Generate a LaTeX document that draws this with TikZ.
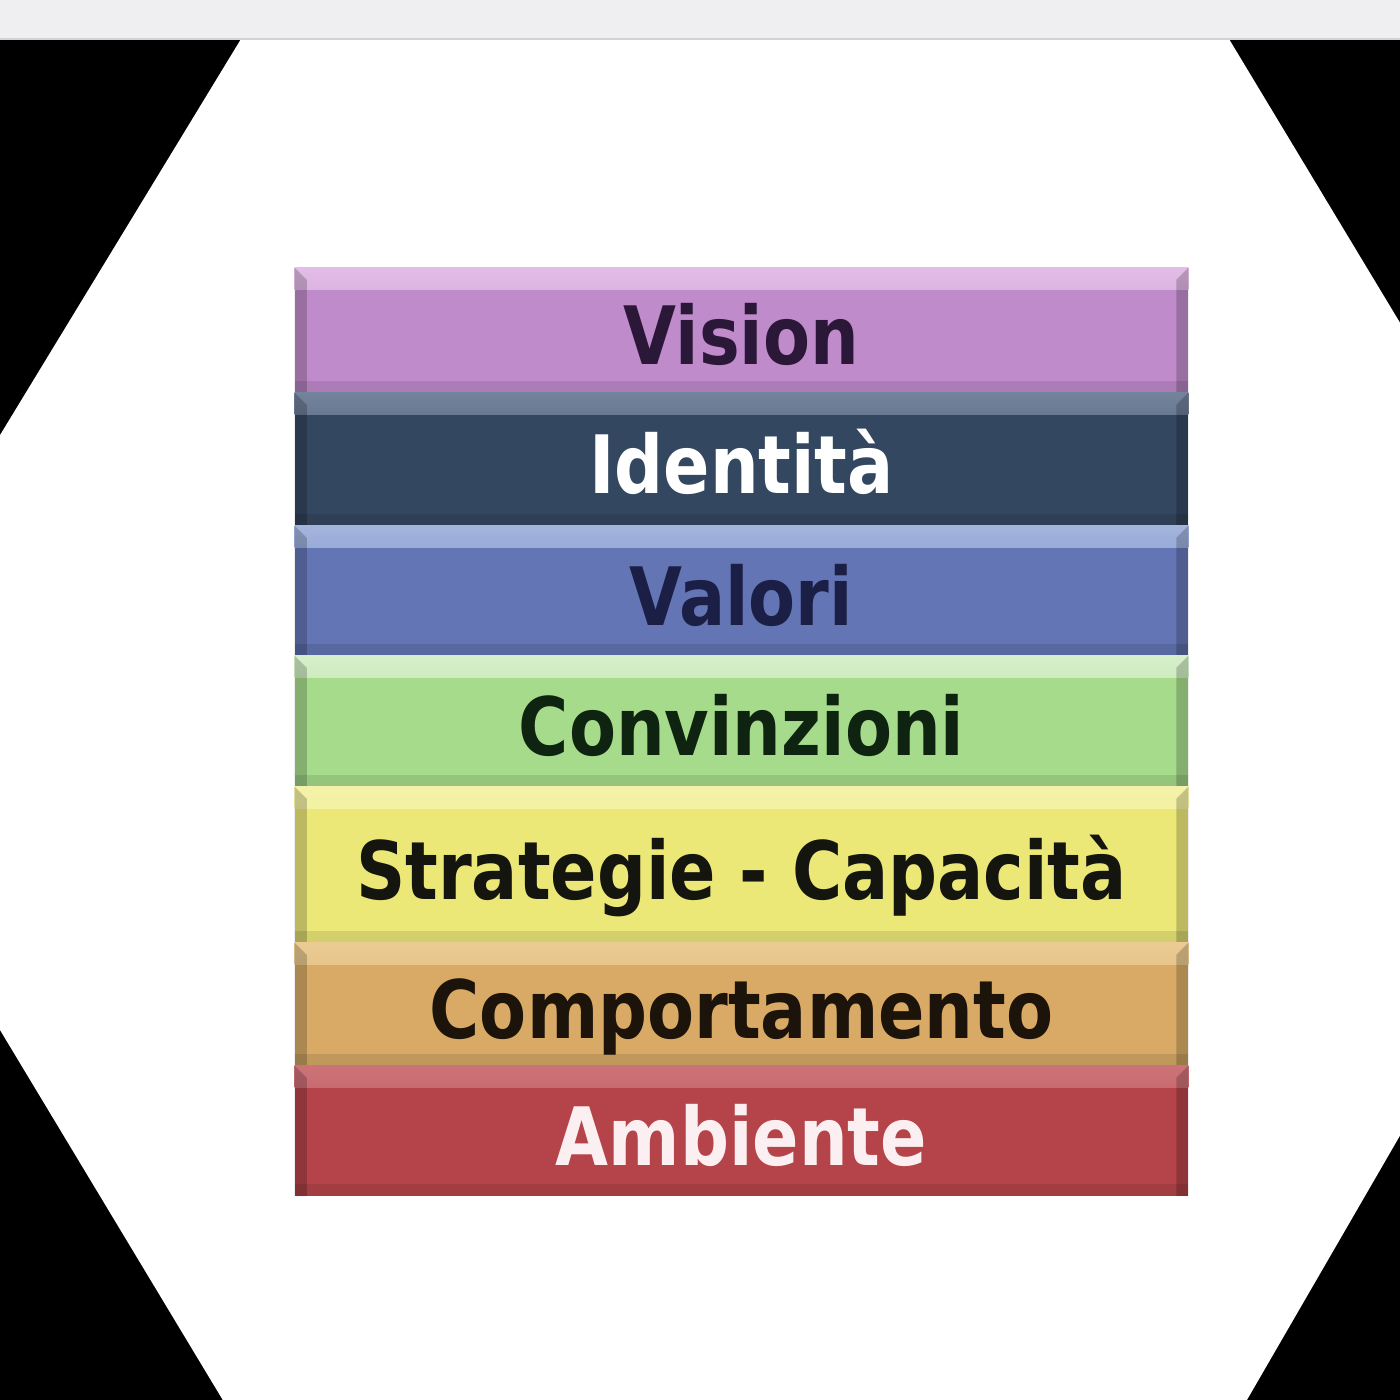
\documentclass[tikz,border=0pt]{standalone}
\usepackage{fontspec}
\newfontfamily\bandfont{DejaVu Sans}[FakeStretch=0.85]
\definecolor{stripgray}{HTML}{EFEFF1}
\definecolor{stripline}{HTML}{D2D2D6}
\definecolor{visionfill}{HTML}{C08BCB}
\definecolor{visiontop}{HTML}{E2BDE6}
\definecolor{visionink}{HTML}{2B1838}
\definecolor{identitafill}{HTML}{344760}
\definecolor{identitatop}{HTML}{73839C}
\definecolor{identitaink}{HTML}{FFFFFF}
\definecolor{valorifill}{HTML}{6375B5}
\definecolor{valoritop}{HTML}{A3B5DD}
\definecolor{valoriink}{HTML}{1C1F45}
\definecolor{convinzionifill}{HTML}{A6DB8B}
\definecolor{convinzionitop}{HTML}{D6EFCB}
\definecolor{convinzioniink}{HTML}{0F2410}
\definecolor{strategiefill}{HTML}{ECE878}
\definecolor{strategietop}{HTML}{F4F2A8}
\definecolor{strategieink}{HTML}{151510}
\definecolor{comportamentofill}{HTML}{D8AA66}
\definecolor{comportamentotop}{HTML}{EACB93}
\definecolor{comportamentoink}{HTML}{1C140A}
\definecolor{ambientefill}{HTML}{B5444A}
\definecolor{ambientetop}{HTML}{CC7378}
\definecolor{ambienteink}{HTML}{FCEFF1}
\begin{document}
\begin{tikzpicture}[
	x=0.01cm, y=-0.01cm,
	font=\bandfont\bfseries\fontsize{22.9}{27}\selectfont,
	band/.style={rectangle, inner sep=0pt, minimum width=8.93cm,
		text height=19.5pt, text depth=0pt,
		fill=#1fill, text=#1ink,
		path picture={
			\shade[top color=#1top, bottom color=#1fill]
				(path picture bounding box.north west) rectangle
				([yshift=-0.22cm]path picture bounding box.north east);
			\fill[black, opacity=.2] (path picture bounding box.north west)
				-- ++(0.12cm,-0.12cm) |- (path picture bounding box.south west) -- cycle;
			\fill[black, opacity=.2] (path picture bounding box.north east)
				-- ++(-0.12cm,-0.12cm) |- (path picture bounding box.south east) -- cycle;
			\fill[black, opacity=.1] (path picture bounding box.south west)
				rectangle ([yshift=0.12cm]path picture bounding box.south east);
		}},
	]
\clip (0,0) rectangle (1400,1400);
\fill[black] (0,39) rectangle (1400,1400);
\fill[white] (-180,731) -- (241,39) -- (1229,39) -- (1640,721)
	-- (1189,1500) -- (283,1500) -- cycle;
\fill[stripgray] (0,0) rectangle (1400,39);
\draw[stripline] (0,39) -- (1400,39);
\foreach \name/\y/\h/\txt in {vision/330.5/1.25/Vision,
		identita/459.5/1.33/Identità,
		valori/591/1.30/Valori,
		convinzioni/721.5/1.31/Convinzioni,
		strategie/865/1.56/Strategie - Capacità,
		comportamento/1004.5/1.23/Comportamento,
		ambiente/1131/1.30/Ambiente}
	\node[band=\name, minimum height=\h cm] (\name) at (741.5,\y) {\txt};
\end{tikzpicture}
\end{document}
